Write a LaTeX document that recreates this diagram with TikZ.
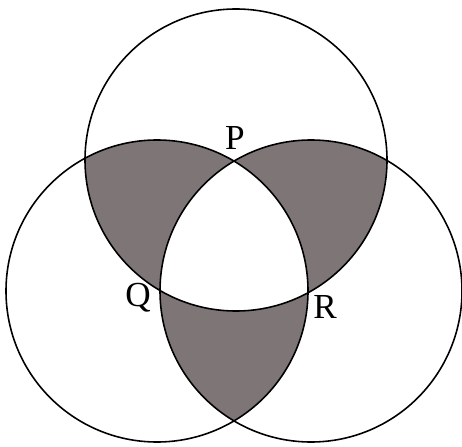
\documentclass[tikz,border=0pt]{standalone}
\usepackage{fontspec}
\setmainfont{Liberation Serif}
\tikzset{every node/.style={font=\fontsize{20}{24}\selectfont},rond/.style={line width=.9pt},ombre/.style={fill={rgb,255:red,126;green,118;blue,118}}}
\begin{document}
\begin{tikzpicture}[x=.02cm,y=.02cm]
\useasboundingbox (0,0) rectangle (462,446);
% Centres des trois cercles, rayon commun 151.
\coordinate (A) at (236,286);\coordinate (B) at (157,155);\coordinate (C) at (311,155);\def\rr{151}
\begin{scope}\clip (A) circle (\rr);\fill[ombre] (B) circle (\rr);\end{scope}
\begin{scope}\clip (A) circle (\rr);\fill[ombre] (C) circle (\rr);\end{scope}
\begin{scope}\clip (B) circle (\rr);\fill[ombre] (C) circle (\rr);\end{scope}
\begin{scope}\clip (A) circle (\rr);\clip (B) circle (\rr);\fill[white] (C) circle (\rr);\end{scope}
\draw[rond] (A) circle (\rr) (B) circle (\rr) (C) circle (\rr);
\node (P) at (235,308){P};\node (Q) at (138,148){Q};\node (R) at (325,139){R};
\end{tikzpicture}
\end{document}
